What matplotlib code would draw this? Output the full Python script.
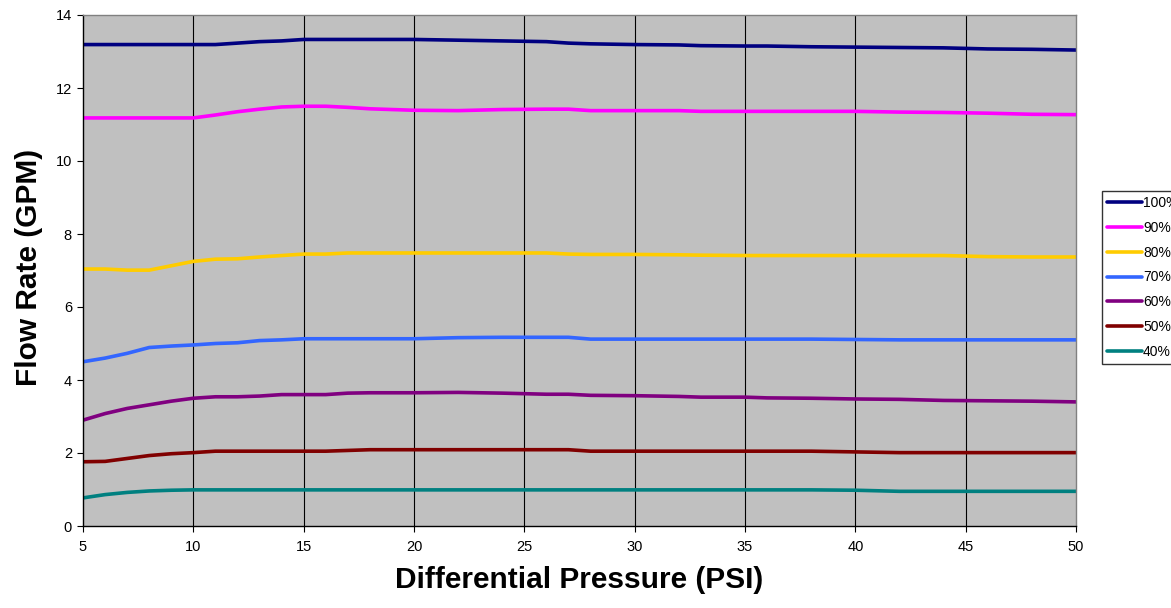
import matplotlib
matplotlib.use("Agg")
import matplotlib.pyplot as plt

pressure = [5, 6, 7, 8, 9, 10, 11, 12, 13, 14, 15, 16, 17, 18, 20, 22, 24, 26, 27, 28,
            30, 32, 33, 35, 36, 38, 40, 42, 44, 46, 48, 50]

flow_100 = [13.19, 13.19, 13.19, 13.19, 13.19, 13.19, 13.19, 13.23, 13.27, 13.29, 13.33, 13.33,
            13.33, 13.33, 13.33, 13.31, 13.29, 13.27, 13.23, 13.21, 13.19, 13.18, 13.16, 13.15,
            13.15, 13.13, 13.12, 13.11, 13.10, 13.07, 13.06, 13.04]
flow_90 = [11.18, 11.18, 11.18, 11.18, 11.18, 11.18, 11.26, 11.35, 11.42, 11.48, 11.50, 11.50,
           11.47, 11.43, 11.39, 11.38, 11.41, 11.42, 11.42, 11.38, 11.38, 11.38, 11.36, 11.36,
           11.36, 11.36, 11.36, 11.34, 11.33, 11.31, 11.28, 11.27]
flow_80 = [7.04, 7.04, 7.01, 7.01, 7.13, 7.25, 7.31, 7.32, 7.37, 7.41, 7.45, 7.45,
           7.48, 7.48, 7.48, 7.48, 7.48, 7.48, 7.45, 7.44, 7.44, 7.43, 7.42, 7.41,
           7.41, 7.41, 7.41, 7.41, 7.41, 7.38, 7.37, 7.37]
flow_70 = [4.50, 4.60, 4.73, 4.89, 4.93, 4.96, 5.00, 5.02, 5.08, 5.10, 5.13, 5.13,
           5.13, 5.13, 5.13, 5.16, 5.17, 5.17, 5.17, 5.12, 5.12, 5.12, 5.12, 5.12,
           5.12, 5.12, 5.11, 5.10, 5.10, 5.10, 5.10, 5.10]
flow_60 = [2.90, 3.08, 3.22, 3.32, 3.42, 3.50, 3.54, 3.54, 3.56, 3.60, 3.60, 3.60,
           3.64, 3.65, 3.65, 3.66, 3.64, 3.61, 3.61, 3.58, 3.57, 3.55, 3.53, 3.53,
           3.51, 3.50, 3.48, 3.47, 3.44, 3.43, 3.42, 3.40]
flow_50 = [1.76, 1.77, 1.85, 1.93, 1.98, 2.01, 2.05, 2.05, 2.05, 2.05, 2.05, 2.05,
           2.07, 2.09, 2.09, 2.09, 2.09, 2.09, 2.09, 2.05, 2.05, 2.05, 2.05, 2.05,
           2.05, 2.05, 2.03, 2.01, 2.01, 2.01, 2.01, 2.01]
flow_40 = [0.77, 0.86, 0.92, 0.96, 0.98, 0.99, 0.99, 0.99, 0.99, 0.99, 0.99, 0.99,
           0.99, 0.99, 0.99, 0.99, 0.99, 0.99, 0.99, 0.99, 0.99, 0.99, 0.99, 0.99,
           0.99, 0.99, 0.98, 0.95, 0.95, 0.95, 0.95, 0.95]

series_labels = ["100%", "90%", "80%", "70%", "60%", "50%", "40%"]
series_values = [flow_100, flow_90, flow_80, flow_70, flow_60, flow_50, flow_40]
series_colors = ["#000080", "#FF00FF", "#FFCC00", "#3366FF", "#800080", "#800000", "#008080"]

x_ticks = [5, 10, 15, 20, 25, 30, 35, 40, 45, 50]
y_ticks = [0, 2, 4, 6, 8, 10, 12, 14]

plt.rcParams['font.family'] = ['Liberation Sans', 'DejaVu Sans']

W, H = 1171, 608
fig = plt.figure(figsize=(W / 100, H / 100), dpi=100)
left, right, top, bottom = 83, 1076, 15, 526
ax = fig.add_axes([left / W, 1 - bottom / H, (right - left) / W, (bottom - top) / H])
ax.set_facecolor("#C0C0C0")

for lab, vals, col in zip(series_labels, series_values, series_colors):
    ax.plot(pressure, vals, color=col, lw=2.6, label=lab, solid_capstyle='round')

ax.set_xlim(5, 50)
ax.set_ylim(0, 14)
ax.set_xticks(x_ticks)
ax.set_yticks(y_ticks)
for xv in x_ticks[1:-1]:
    ax.axvline(xv, color="black", lw=0.8, zorder=0.5)

ax.tick_params(axis='both', direction='out', length=4, width=0.8, labelsize=10.5, colors='black')
ax.tick_params(axis='x', pad=6)
ax.tick_params(axis='y', pad=4)

ax.spines['left'].set_color('black')
ax.spines['bottom'].set_color('black')
ax.spines['top'].set_color('#808080')
ax.spines['right'].set_color('#808080')
for s in ax.spines.values():
    s.set_linewidth(1.0)

ax.set_xlabel("Differential Pressure (PSI)", fontsize=21.5, fontweight='bold')
ax.set_ylabel("Flow Rate (GPM)", fontsize=21.5, fontweight='bold')
ax.xaxis.set_label_coords((579 - left) / (right - left), (bottom - 580) / (bottom - top))
ax.yaxis.set_label_coords((29 - left) / (right - left), (bottom - 267) / (bottom - top))
ax.xaxis.label.set_va('center')
ax.yaxis.label.set_va('center')

leg = fig.legend(loc='upper left', bbox_to_anchor=(1102 / W, 1 - 191 / H), borderaxespad=0,
                 fontsize=10, frameon=True, fancybox=False, edgecolor='black',
                 handlelength=2.5, handletextpad=0.1, labelspacing=0.78, borderpad=0.35)
leg.get_frame().set_linewidth(1.0)
for line in leg.get_lines():
    line.set_linewidth(2.6)

fig.savefig("out.png", dpi=100, facecolor='white')
